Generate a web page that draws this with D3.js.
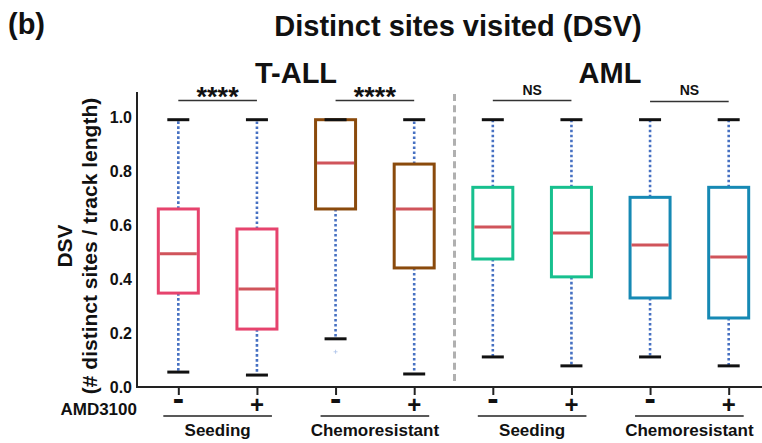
<!DOCTYPE html>
<html>
<head>
<meta charset="utf-8">
<script src="https://cdn.jsdelivr.net/npm/d3@7"></script>
<style>
  html, body { margin: 0; padding: 0; background: #fff; }
  svg { display: block; font-family: "Liberation Sans", Arial, Helvetica, sans-serif; }
</style>
</head>
<body>
<svg id="chart" width="762" height="443"></svg>
<script>
// Box-plot summaries for DSV (distinct sites / track length)
const boxIds    = ["TALL-Seed-", "TALL-Seed+", "TALL-Chemo-", "TALL-Chemo+",
                   "AML-Seed-", "AML-Seed+", "AML-Chemo-", "AML-Chemo+"];
const amdLabels = ["-", "+", "-", "+", "-", "+", "-", "+"];
const whiskerLo = [0.057, 0.046, 0.180, 0.050, 0.113, 0.080, 0.113, 0.080];
const q1        = [0.349, 0.216, 0.660, 0.442, 0.475, 0.409, 0.331, 0.257];
const median    = [0.494, 0.364, 0.830, 0.660, 0.593, 0.571, 0.527, 0.482];
const q3        = [0.660, 0.586, 0.990, 0.826, 0.740, 0.740, 0.703, 0.740];
const whiskerHi = [0.990, 0.990, 0.990, 0.990, 0.990, 0.990, 0.990, 0.990];
const outliers  = [[], [], [0.132], [], [], [], [], []];
const boxColors = ["#e6436d", "#e6436d", "#8a4a0c", "#8a4a0c",
                   "#17c08e", "#17c08e", "#1689b4", "#1689b4"];

// Condition groups under the axis
const groupNames   = ["Seeding", "Chemoresistant", "Seeding", "Chemoresistant"];
const groupMembers = [[0, 1], [2, 3], [4, 5], [6, 7]];

// Pairwise significance annotations
const sigLabels = ["****", "****", "NS", "NS"];
const sigPairs  = [[0, 1], [2, 3], [4, 5], [6, 7]];

// Panel headings
const panelNames   = ["T-ALL", "AML"];
const panelCenters = [296, 610];

const yTicks = [0, 0.2, 0.4, 0.6, 0.8, 1.0];

const svg = d3.select("#chart");

const y = d3.scaleLinear().domain([0, 1]).range([387.5, 117]);
const x = d3.scalePoint().domain(boxIds).range([139, 768]).padding(0.5);
const boxW = 40, capW = 22;
const axisX = 137, axisY = 387;

// Figure label and title
svg.append("text").attr("x", 8).attr("y", 34)
  .attr("font-size", 29).attr("font-weight", "bold").attr("fill", "#111").text("(b)");
svg.append("text").attr("x", 458).attr("y", 36).attr("text-anchor", "middle")
  .attr("font-size", 29).attr("font-weight", "bold").attr("fill", "#111")
  .text("Distinct sites visited (DSV)");

// Panel headings
panelNames.forEach((name, i) => {
  svg.append("text").attr("x", panelCenters[i]).attr("y", 83).attr("text-anchor", "middle")
    .attr("font-size", 29).attr("font-weight", "bold").attr("fill", "#111").text(name);
});

// Y axis
const yAxis = d3.axisLeft(y).tickValues(yTicks).tickSize(0).tickPadding(5)
  .tickFormat(d3.format(".1f"));
const gy = svg.append("g").attr("transform", `translate(${axisX},0)`).call(yAxis);
gy.select(".domain").remove();
gy.selectAll("text").attr("font-size", 16).attr("font-weight", "bold")
  .attr("fill", "#111").attr("font-family", "Liberation Sans, Arial, sans-serif");
svg.append("line").attr("x1", axisX).attr("x2", axisX).attr("y1", 92).attr("y2", axisY + 1)
  .attr("stroke", "#222").attr("stroke-width", 2);

// Y axis title
const yt = svg.append("g").attr("transform", "translate(0,246) rotate(-90)");
yt.append("text").attr("x", 0).attr("y", 72).attr("text-anchor", "middle")
  .attr("font-size", 21).attr("font-weight", "bold").attr("fill", "#111").text("DSV");
yt.append("text").attr("x", 0).attr("y", 97).attr("text-anchor", "middle")
  .attr("font-size", 21).attr("font-weight", "bold").attr("fill", "#111")
  .text("(# distinct sites / track length)");

// X axis
const xAxis = d3.axisBottom(x).tickSize(8).tickFormat(() => "");
const gx = svg.append("g").attr("transform", `translate(0,${axisY})`).call(xAxis);
gx.select(".domain").remove();
gx.selectAll(".tick line").attr("stroke", "#222").attr("stroke-width", 2);
svg.append("line").attr("x1", axisX - 1).attr("x2", 762).attr("y1", axisY).attr("y2", axisY)
  .attr("stroke", "#222").attr("stroke-width", 2);

// AMD3100 row
svg.append("text").attr("x", 137).attr("y", 415).attr("text-anchor", "end")
  .attr("font-size", 17).attr("font-weight", "bold").attr("fill", "#111").text("AMD3100");
svg.selectAll("text.amd").data(boxIds).join("text").attr("class", "amd")
  .attr("x", d => x(d)).attr("y", (d, i) => amdLabels[i] === "+" ? 413 : 410)
  .attr("text-anchor", "middle").attr("font-size", (d, i) => amdLabels[i] === "+" ? 24 : 34)
  .attr("font-weight", "bold").attr("fill", "#111").text((d, i) => amdLabels[i]);

// Group underlines and names
groupNames.forEach((name, g) => {
  const [a, b] = groupMembers[g].map(k => x(boxIds[k]));
  svg.append("line").attr("x1", a - 15).attr("x2", b + 15).attr("y1", 416).attr("y2", 416)
    .attr("stroke", "#222").attr("stroke-width", 1.6);
  svg.append("text").attr("x", (a + b) / 2).attr("y", 436).attr("text-anchor", "middle")
    .attr("font-size", 17).attr("font-weight", "bold").attr("fill", "#111").text(name);
});

// Panel separator
const sepX = (x(boxIds[3]) + x(boxIds[4])) / 2 + 1;
svg.append("line").attr("x1", sepX).attr("x2", sepX).attr("y1", 94).attr("y2", 384)
  .attr("stroke", "#b0b0b0").attr("stroke-width", 3).attr("stroke-dasharray", "7,4.2");

// Significance brackets
sigPairs.forEach((p, i) => {
  const [a, b] = p.map(k => x(boxIds[k]));
  const by = i === 3 ? 101.5 : 100.5;
  svg.append("line").attr("x1", a).attr("x2", b).attr("y1", by).attr("y2", by)
    .attr("stroke", "#333").attr("stroke-width", 1.6);
  const isStar = sigLabels[i] === "****";
  svg.append("text").attr("x", (a + b) / 2).attr("y", isStar ? 106 : 95)
    .attr("text-anchor", "middle").attr("font-size", isStar ? 27 : 14)
    .attr("font-weight", "bold").attr("fill", "#111").text(sigLabels[i]);
});

// Boxes
const boxes = svg.selectAll("g.box").data(boxIds).join("g").attr("class", "box");

// whiskers (dotted)
boxes.append("line").attr("x1", d => x(d)).attr("x2", d => x(d))
  .attr("y1", (d, i) => y(q3[i])).attr("y2", (d, i) => y(whiskerHi[i]))
  .attr("stroke", "#4670c2").attr("stroke-width", 2.6).attr("stroke-dasharray", "2.6,2.4");
boxes.append("line").attr("x1", d => x(d)).attr("x2", d => x(d))
  .attr("y1", (d, i) => y(q1[i])).attr("y2", (d, i) => y(whiskerLo[i]))
  .attr("stroke", "#4670c2").attr("stroke-width", 2.6).attr("stroke-dasharray", "2.6,2.4");

// box body
boxes.append("rect")
  .attr("x", d => x(d) - boxW / 2).attr("width", boxW)
  .attr("y", (d, i) => y(q3[i])).attr("height", (d, i) => y(q1[i]) - y(q3[i]))
  .attr("fill", "none").attr("stroke", (d, i) => boxColors[i]).attr("stroke-width", 3);

// median
boxes.append("line").attr("x1", d => x(d) - boxW / 2 + 1.5).attr("x2", d => x(d) + boxW / 2 - 1.5)
  .attr("y1", (d, i) => y(median[i])).attr("y2", (d, i) => y(median[i]))
  .attr("stroke", "#d0545b").attr("stroke-width", 3);

// caps
boxes.append("line").attr("x1", d => x(d) - capW / 2).attr("x2", d => x(d) + capW / 2)
  .attr("y1", (d, i) => y(whiskerHi[i])).attr("y2", (d, i) => y(whiskerHi[i]))
  .attr("stroke", "#111").attr("stroke-width", 3);
boxes.append("line").attr("x1", d => x(d) - capW / 2).attr("x2", d => x(d) + capW / 2)
  .attr("y1", (d, i) => y(whiskerLo[i])).attr("y2", (d, i) => y(whiskerLo[i]))
  .attr("stroke", "#111").attr("stroke-width", 3);

// outliers (small plus markers)
boxes.each(function (d, i) {
  const g = d3.select(this);
  outliers[i].forEach(v => {
    const cx = x(d), cy = y(v);
    g.append("path").attr("d", `M${cx - 2},${cy}H${cx + 2}M${cx},${cy - 2}V${cy + 2}`)
      .attr("stroke", "#aac0e8").attr("stroke-width", 0.8).attr("fill", "none");
  });
});
</script>
</body>
</html>
